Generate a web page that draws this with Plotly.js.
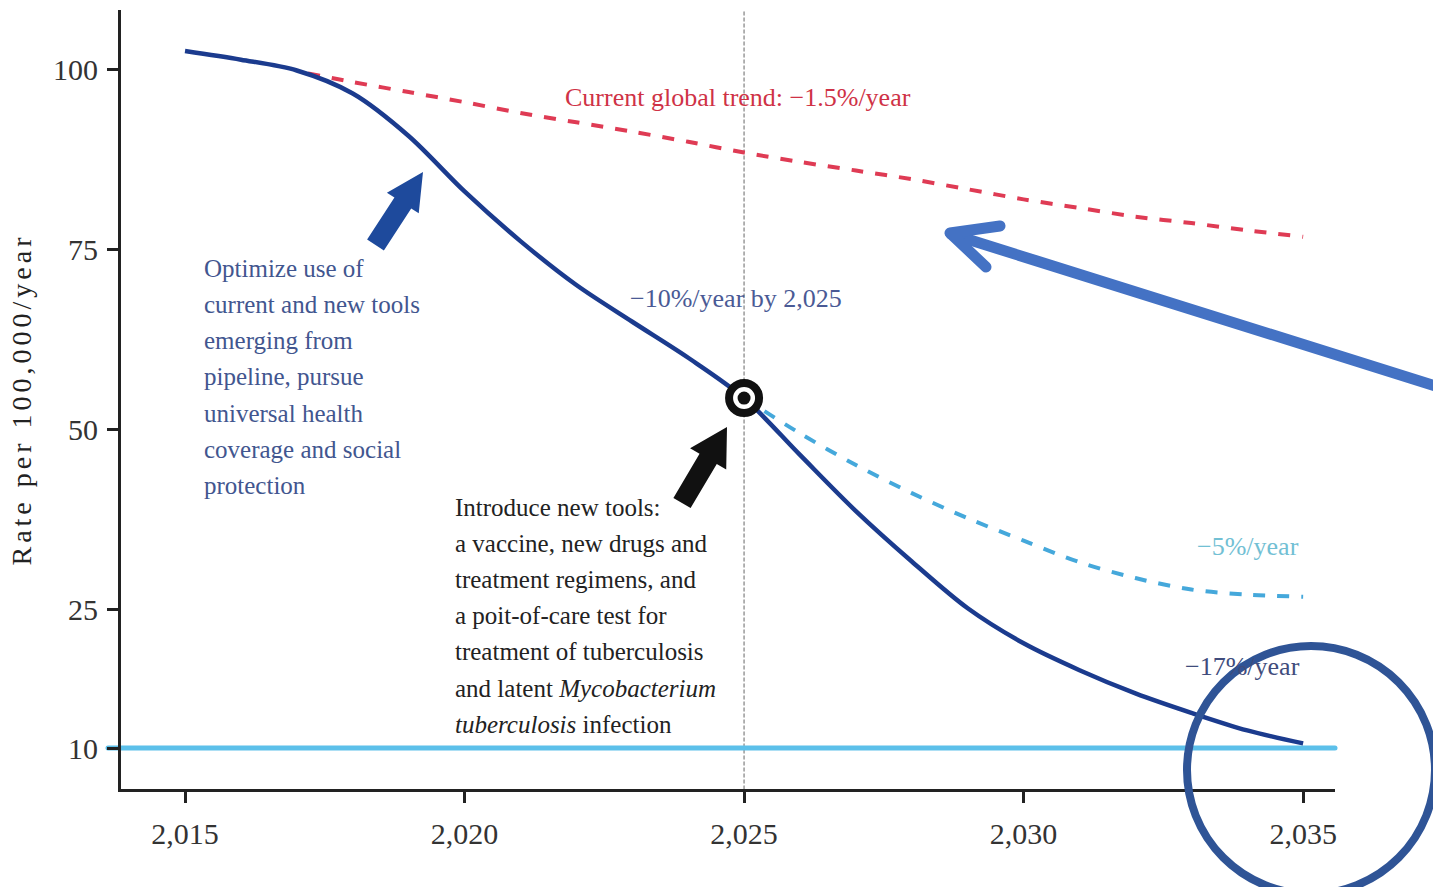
<!DOCTYPE html>
<html><head><meta charset="utf-8">
<script src="https://cdn.plot.ly/plotly-3.0.1.min.js"></script>
<style>
html,body{margin:0;padding:0;background:#fff;}
#chart{width:1433px;height:887px;}
.ytitle{letter-spacing:4px;}
.shapelayer path{stroke-linecap:round;stroke-linejoin:round;}
</style></head><body><div id="chart"></div>
<script>
// ---- data ----
const yearsMain = [2015,2016,2017,2018,2019,2020,2021,2022,2023,2024,2025,2026,2027,2028,2029,2030,2031,2032,2033,2034,2035];
const rateMain  = [102.5,101.3,99.8,96.6,90.7,83.0,76.1,70.0,64.9,59.9,54.3,46.4,38.6,31.6,25.1,21.3,18.4,15.9,13.8,11.9,10.5];

const yearsFive = [2025,2026,2027,2028,2029,2030,2031,2032,2033,2034,2035];
const rateFive  = [54.3,49.4,45.0,41.1,37.6,34.5,31.5,29.3,27.7,27.0,26.7];

const yearsTrend = [2017.2,2018,2019,2020,2021,2022,2023,2024,2025,2026,2027,2028,2029,2030,2031,2032,2033,2034,2035];
const rateTrend  = [99.4,98.2,96.8,95.4,93.9,92.6,91.3,89.9,88.4,87.1,85.9,84.7,83.3,81.9,80.7,79.5,78.6,77.6,76.7];

const milestoneYear = [2025];
const milestoneRate = [54.3];
const targetRate = 10;

const xTicks = [2015,2020,2025,2030,2035];
const yTicks = [10,25,50,75,100];
const yTickText = ['10','25','50','75','100'];

const blueNote = ['Optimize use of','current and new tools','emerging from','pipeline, pursue','universal health','coverage and social','protection'];
const blackNote = ['Introduce new tools:','a vaccine, new drugs and','treatment regimens, and','a poit-of-care test for','treatment of tuberculosis','and latent <i>Mycobacterium</i>','<i>tuberculosis</i> infection'];

// ---- the reference's vertical axis is compressed below 25 ----
function fy(v){ return v >= 25 ? v : 25 - (25 - v) * (19.31/15); }
const mapY = a => a.map(fy);

// pixel -> paper helpers for decorations
const L=121, T=10, W=1214, H=779;
const px = x => (x - L) / W;
const py = y => (T + H - y) / H;

function blockArrow(tail, tip, headLen, headHalf, shaftHalf){
  const dx = tip[0]-tail[0], dy = tip[1]-tail[1], len = Math.hypot(dx,dy);
  const ux = dx/len, uy = dy/len, nx = -uy, ny = ux;
  const b = [tip[0]-ux*headLen, tip[1]-uy*headLen];
  const pts = [
    [tail[0]+nx*shaftHalf, tail[1]+ny*shaftHalf],
    [b[0]+nx*shaftHalf, b[1]+ny*shaftHalf],
    [b[0]+nx*headHalf, b[1]+ny*headHalf],
    tip,
    [b[0]-nx*headHalf, b[1]-ny*headHalf],
    [b[0]-nx*shaftHalf, b[1]-ny*shaftHalf],
    [tail[0]-nx*shaftHalf, tail[1]-ny*shaftHalf]
  ];
  return 'M ' + pts.map(p => px(p[0]).toFixed(5)+','+py(p[1]).toFixed(5)).join(' L ') + ' Z';
}
function polyline(pts){
  return 'M ' + pts.map(p => px(p[0]).toFixed(5)+','+py(p[1]).toFixed(5)).join(' L ');
}

const serif = 'Liberation Serif, Times New Roman, serif';

const traces = [
  {x: yearsFive, y: mapY(rateFive), mode:'lines', line:{color:'#45a8db', width:4, dash:'dash', shape:'spline', smoothing:0.9}, hoverinfo:'skip'},
  {x: yearsTrend, y: mapY(rateTrend), mode:'lines', line:{color:'#df3b54', width:4, dash:'dash', shape:'spline', smoothing:0.9}, hoverinfo:'skip'},
  {x: yearsMain, y: mapY(rateMain), mode:'lines', line:{color:'#1b3b8e', width:4.5, shape:'spline', smoothing:0.9}, hoverinfo:'skip'},
  {x: milestoneYear, y: mapY(milestoneRate), mode:'markers', marker:{symbol:'circle', size:30, color:'#ffffff', line:{color:'#111111', width:8}}, hoverinfo:'skip'},
  {x: milestoneYear, y: mapY(milestoneRate), mode:'markers', marker:{symbol:'circle', size:13, color:'#111111'}, hoverinfo:'skip'}
];

const annotations = [];
function addText(text, x, y, color, size){
  annotations.push({xref:'paper', yref:'paper', x:px(x), y:py(y), xanchor:'left', yanchor:'middle',
    text:text, showarrow:false, font:{family:serif, size:size, color:color}});
}
addText('Current global trend: −1.5%/year', 563, 97, '#cf3246', 26);
addText('−10%/year by 2,025', 628, 298, '#4a5a95', 26);
addText('−5%/year', 1195, 546, '#72c0d4', 26);
addText('−17%/year', 1183, 666, '#404c7c', 26);
blueNote.forEach((t,i) => addText(t, 202, 268 + i*36.3, '#42568f', 25));
blackNote.forEach((t,i) => addText(t, 453, 507 + i*36.2, '#222222', 25));

const shapes = [
  {type:'line', xref:'x', yref:'paper', x0:milestoneYear[0], x1:milestoneYear[0], y0:0, y1:1, layer:'below',
   line:{color:'#9a9a9a', width:1.5, dash:'dot'}},
  {type:'line', xref:'paper', yref:'y', x0:px(108), x1:1, y0:fy(targetRate), y1:fy(targetRate), layer:'below',
   line:{color:'#5cc0ea', width:5}},
  {type:'path', xref:'paper', yref:'paper', path:blockArrow([375.5,245],[423,172],37,19,10), fillcolor:'#1e4a9c', line:{width:0}},
  {type:'path', xref:'paper', yref:'paper', path:blockArrow([682,503],[727,427],37,21,10), fillcolor:'#111111', line:{width:0}},
  {type:'path', xref:'paper', yref:'paper', path:polyline([[1445,389],[951,234]]), line:{color:'#4472c4', width:11}},
  {type:'path', xref:'paper', yref:'paper', path:polyline([[1000,226],[950,233],[986,267]]), line:{color:'#4472c4', width:11}},
  {type:'circle', xref:'paper', yref:'paper', x0:px(1311-124), x1:px(1311+124), y0:py(770+124), y1:py(770-124),
   line:{color:'#2f5496', width:8}}
];

const layout = {
  width:1433, height:887,
  margin:{l:L, r:1433-L-W, t:T, b:887-T-H},
  paper_bgcolor:'#ffffff', plot_bgcolor:'#ffffff',
  showlegend:false,
  xaxis:{range:[2013.855, 2035.57], tickvals:xTicks, tickformat:',d', ticks:'outside', ticklen:11, tickwidth:3, tickcolor:'#222',
    showline:true, linewidth:3, linecolor:'#222', showgrid:false, zeroline:false, ticklabelstandoff:5,
    tickfont:{family:serif, size:30, color:'#333'}},
  yaxis:{range:[0, 108.2], tickvals:yTicks.map(fy), ticktext:yTickText, ticks:'outside', ticklen:11, tickwidth:3, tickcolor:'#222',
    showline:true, linewidth:3, linecolor:'#222', showgrid:false, zeroline:false, ticklabelstandoff:3,
    tickfont:{family:serif, size:30, color:'#333'},
    title:{text:'Rate per 100,000/year', font:{family:serif, size:28, color:'#222'}, standoff:14}},
  annotations:annotations,
  shapes:shapes
};

Plotly.newPlot('chart', traces, layout, {staticPlot:true, displayModeBar:false});
</script></body></html>
